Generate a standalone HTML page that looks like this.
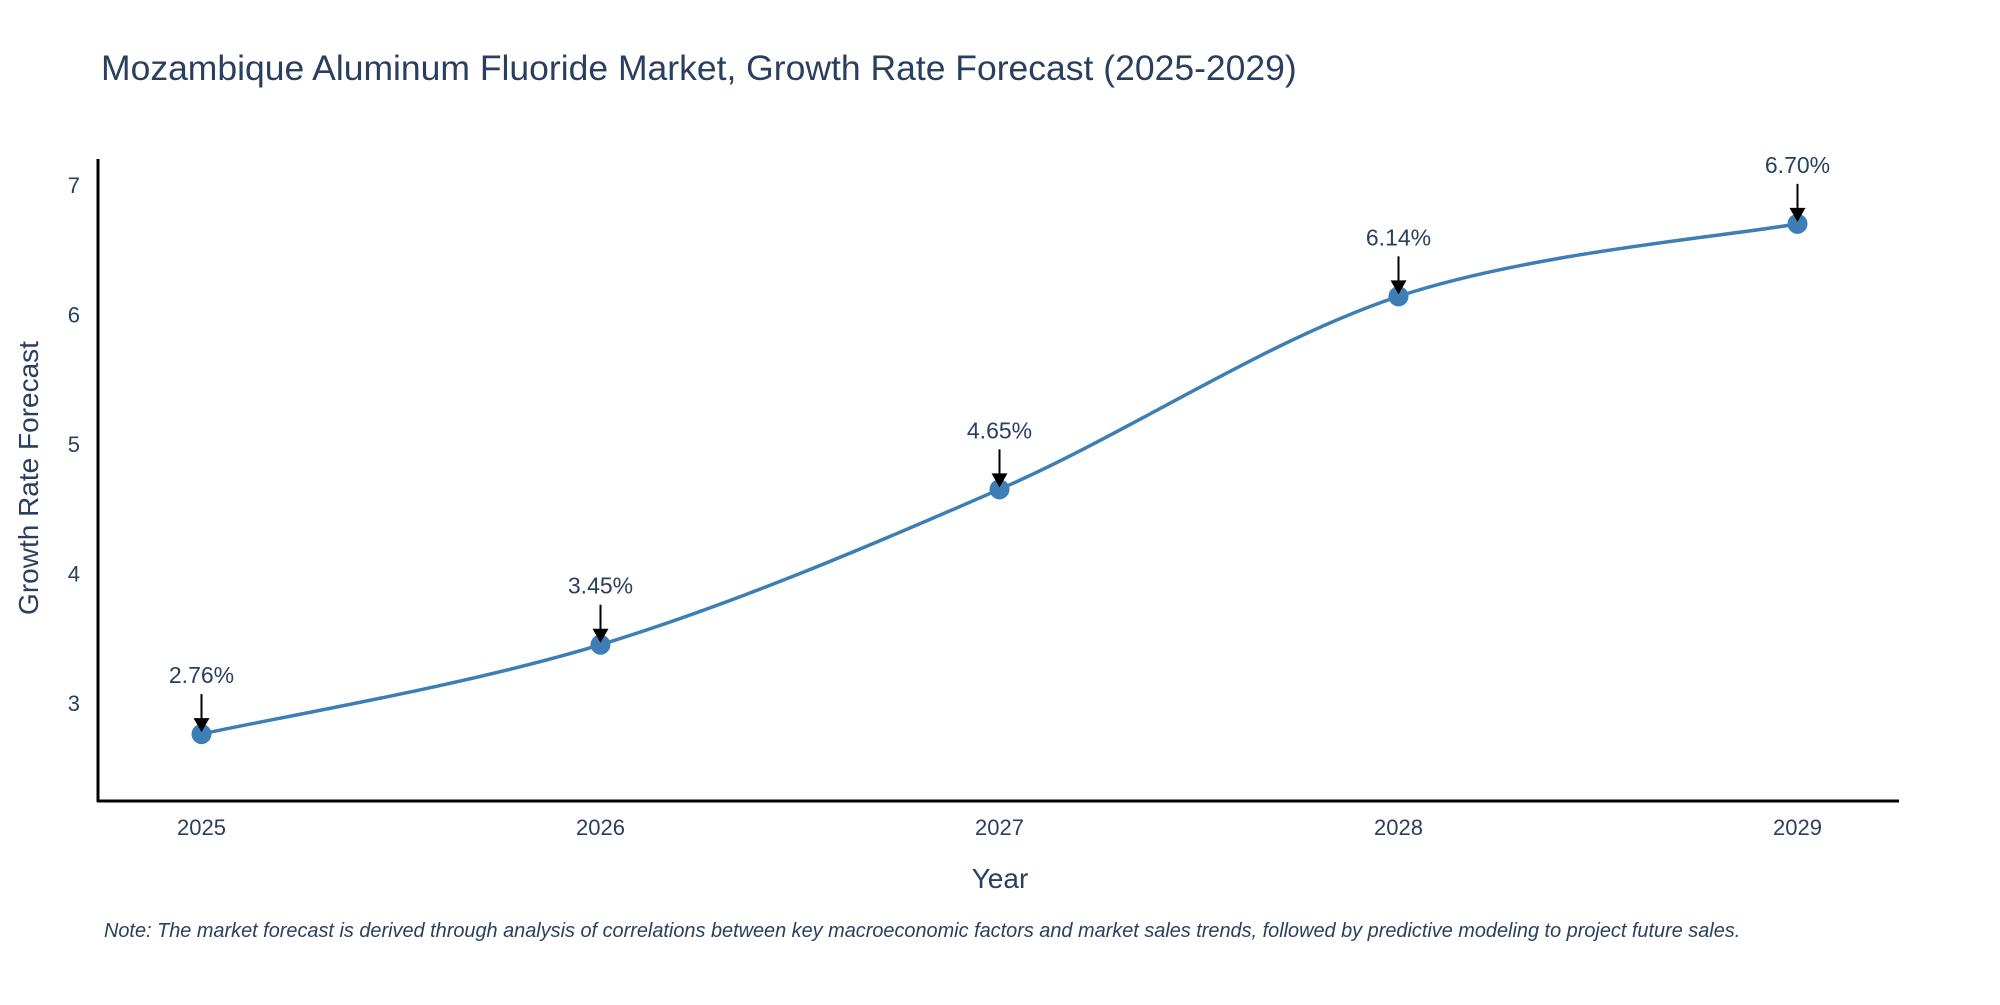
<!DOCTYPE html>
<html><head><meta charset="utf-8"><style>
body{margin:0;background:#fff;}
svg text{font-family:"Liberation Sans",sans-serif;}
</style></head><body>
<svg id="chart" width="2000" height="1000">
<text x="101" y="80" font-size="35.5" fill="#2a3f5f">Mozambique Aluminum Fluoride Market, Growth Rate Forecast (2025-2029)</text>
<g id="axes"></g>
<g id="plot"></g>
<text x="1000" y="888" font-size="28" fill="#2a3f5f" text-anchor="middle">Year</text>
<text transform="translate(38,478) rotate(-90)" font-size="28" fill="#2a3f5f" text-anchor="middle">Growth Rate Forecast</text>
<text x="104" y="937" font-size="19.9" font-style="italic" fill="#2a3f5f">Note: The market forecast is derived through analysis of correlations between key macroeconomic factors and market sales trends, followed by predictive modeling to project future sales.</text>
</svg>
<script>
const years=[2025,2026,2027,2028,2029];
const values=[2.76,3.45,4.65,6.14,6.70];
const labels=["2.76%","3.45%","4.65%","6.14%","6.70%"];
const yTicks=[3,4,5,6,7];
const NS="http://www.w3.org/2000/svg";
const xS=v=>201.5+(v-2025)*399;
const yS=v=>703-(v-3)*129.5;
function mk(t,a,p){const e=document.createElementNS(NS,t);for(const k in a)e.setAttribute(k,a[k]);p.appendChild(e);return e;}
const axes=document.getElementById('axes'),plot=document.getElementById('plot');
let l=mk('line',{x1:98,y1:159,x2:98,y2:802,stroke:'#000','stroke-width':3},axes);


l=mk('line',{x1:97,y1:801,x2:1899,y2:801,stroke:'#000','stroke-width':3},axes);


yTicks.forEach(v=>{const t=mk('text',{x:80,y:yS(v)+8,'font-size':22,fill:'#2a3f5f','text-anchor':'end'},axes);t.textContent=v;

});
years.forEach(v=>{const t=mk('text',{x:xS(v),y:835,'font-size':22,fill:'#2a3f5f','text-anchor':'middle'},axes);t.textContent=v;

});
const pts=years.map((y,i)=>[xS(y),yS(values[i])]);
let d='M'+pts[0][0]+','+pts[0][1];
for(let i=0;i<pts.length-1;i++){const p0=pts[Math.max(i-1,0)],p1=pts[i],p2=pts[i+1],p3=pts[Math.min(i+2,pts.length-1)];
const s=6;d+=' C'+(p1[0]+(p2[0]-p0[0])/s)+','+(p1[1]+(p2[1]-p0[1])/s)+' '+(p2[0]-(p3[0]-p1[0])/s)+','+(p2[1]-(p3[1]-p1[1])/s)+' '+p2[0]+','+p2[1];}
const path=mk('path',{d:d,fill:'none',stroke:'#3d7fb5','stroke-width':3.5},plot);


pts.forEach((p,i)=>{const c=mk('circle',{cx:p[0],cy:p[1],r:10,fill:'#3d7fb5'},plot);


const a=mk('line',{x1:p[0],y1:p[1]-40,x2:p[0],y2:p[1]-14,stroke:'#000','stroke-width':2},plot);


const h=mk('polygon',{points:(p[0]-8)+','+(p[1]-16)+' '+(p[0]+8)+','+(p[1]-16)+' '+p[0]+','+(p[1]-2),fill:'#000'},plot);


const t=mk('text',{x:p[0],y:p[1]-51,'font-size':23,fill:'#2a3f5f','text-anchor':'middle'},plot);t.textContent=labels[i];

});
</script>
</body></html>
